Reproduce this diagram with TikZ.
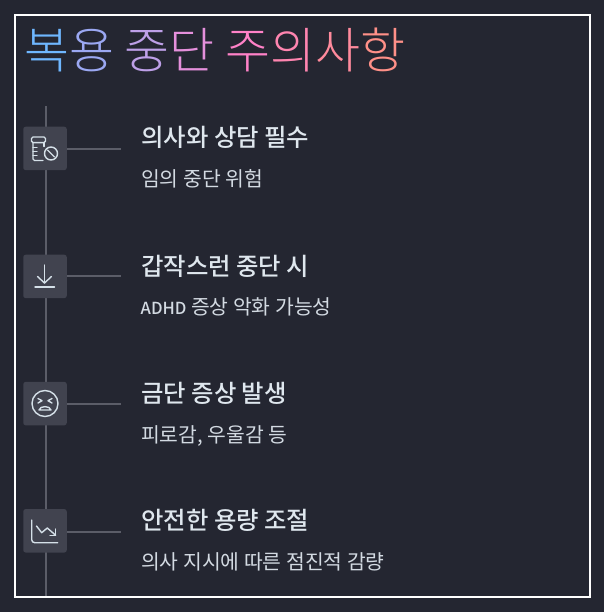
\documentclass[tikz,border=0pt]{standalone}
\usepackage{fontspec}
\setmainfont{Noto Sans CJK KR}
\newfontfamily\titlefont{Noto Sans CJK KR Light}
\newfontfamily\headfont{Noto Sans CJK KR Medium}
\newfontfamily\subfont{Noto Sans CJK KR}
\definecolor{bg}{HTML}{242631}
\definecolor{spine}{HTML}{5B5D68}
\definecolor{tile}{HTML}{41434F}
\definecolor{ink}{HTML}{D5E0E8}
\definecolor{headc}{HTML}{DFE7EE}
\definecolor{subc}{HTML}{D3DAE2}
\definecolor{tA}{HTML}{6FB7FF}
\definecolor{tB}{HTML}{9BA8F2}
\definecolor{tC}{HTML}{BEA0E8}
\definecolor{tD}{HTML}{E590DC}
\definecolor{tE}{HTML}{FF82C8}
\definecolor{tF}{HTML}{FF85B0}
\definecolor{tG}{HTML}{FF8A9C}
\definecolor{tH}{HTML}{FF9088}
\tikzset{
  x=1pt,y=-1pt,
  tile/.style={draw=none,fill=tile,rounded corners=2.5pt,minimum width=43.5pt,minimum height=43.5pt,inner sep=0pt},
  link/.style={draw=spine,line width=2pt},
  head/.style={anchor=base west,inner sep=0pt,text=headc,font=\headfont\fontsize{24.4pt}{28pt}\selectfont},
  sub/.style={anchor=base west,inner sep=0pt,text=subc,font=\subfont\fontsize{20.4pt}{24pt}\selectfont},
  glyph/.style={draw=ink,line width=1.4pt,line cap=round,line join=round},
}
\begin{document}
\begin{tikzpicture}
\useasboundingbox (0,0) rectangle (604,612);
\fill[bg] (0,0) rectangle (604,612);
\coordinate (top) at (46,106);
\coordinate (bot) at (46,596);
\draw[link] (top) -- (bot);
\draw[white,line width=2pt] (15,15) rectangle (590,596.7);
\node[anchor=base west,inner sep=0pt,font=\titlefont\fontsize{48.9pt}{56pt}\selectfont] (title) at (24,68.5)
 {\textcolor{tA}{복}\textcolor{tB}{용} \textcolor{tC}{중}\textcolor{tD}{단} \textcolor{tE}{주}\textcolor{tF}{의}\textcolor{tG}{사}\textcolor{tH}{항}};
\node[tile] (i1) at (45,148.4) {};
\node[tile] (i2) at (45,276.4) {};
\node[tile] (i3) at (45,403.6) {};
\node[tile] (i4) at (45,530.8) {};
\coordinate (e1) at (121,149);
\coordinate (e2) at (121,276);
\coordinate (e3) at (121,404);
\coordinate (e4) at (121,531.5);
\draw[link] (i1.east |- e1) -- (e1);
\draw[link] (i2.east |- e2) -- (e2);
\draw[link] (i3.east |- e3) -- (e3);
\draw[link] (i4.east |- e4) -- (e4);
\node[head] (h1) at (141,147) {의사와 상담 필수};
\node[sub] (s1) at (141,187) {임의 중단 위험};
\node[head] (h2) at (141,275) {갑작스런 중단 시};
\node[sub] (s2) at (140.5,314) {{\headfont\fontsize{16.6pt}{24pt}\selectfont ADHD} 증상 악화 가능성};
\node[head] (h3) at (141,402) {금단 증상 발생};
\node[sub] (s3) at (141,442) {피로감, 우울감 등};
\node[head] (h4) at (141,529) {안전한 용량 조절};
\node[sub] (s4) at (141,569) {의사 지시에 따른 점진적 감량};
% icon 1
\draw[glyph,rounded corners=1.5pt] (31.5,137) rectangle (45.5,142.7);
\draw[glyph] (44,143) -- (44,146.5);
\draw[glyph,rounded corners=1.5pt] (33,143) -- (33,160.5) -- (43,160.5);
\draw[glyph] (33,147.5) -- (37,147.5) (33,151.5) -- (37,151.5) (33,155.5) -- (37,155.5);
\draw[glyph] (51,153.5) circle[radius=6.5];
\draw[glyph] (47.5,150) -- (54.5,157);
% icon 2
\draw[glyph] (44.5,265) -- (44.5,283);
\draw[glyph] (37.5,276.5) -- (44.5,283) -- (51.5,276.5);
\draw[glyph] (35,287) -- (54.5,287);
% icon 3
\draw[glyph] (45,403.5) circle[radius=13];
\draw[glyph] (38,398.5) -- (42,400.7) -- (38,403);
\draw[glyph] (52,398.5) -- (48,400.7) -- (52,403);
\draw[glyph] (39,410) .. controls (40,405.5) and (50,405.5) .. (51,410) -- cycle;
% icon 4
\draw[glyph,rounded corners=3pt] (31.7,520) -- (31.7,542.7) -- (57.7,542.7);
\draw[glyph] (36.5,526) -- (41.7,532.7) -- (47.3,528) -- (55.7,535.3);
\draw[glyph] (55.7,529) -- (55.7,535.3) -- (50,535.3);
\end{tikzpicture}
\end{document}
